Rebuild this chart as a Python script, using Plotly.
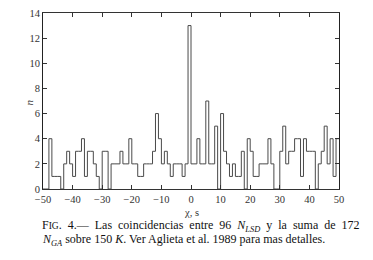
import plotly.graph_objects as go

# bin left edges (width 1 s) and coincidence counts
bin_left = list(range(-50, 50))
counts = [0, 0, 4, 1, 1, 1, 0, 2, 3, 2,
          1, 3, 3, 4, 1, 3, 3, 2, 1, 0,
          3, 3, 0, 2, 2, 2, 3, 2, 2, 4,
          2, 2, 1, 1, 2, 2, 2, 3, 6, 4,
          2, 3, 2, 1, 2, 2, 2, 1, 2, 13,
          2, 2, 4, 2, 2, 7, 2, 2, 5, 0,
          6, 3, 2, 1, 2, 1, 1, 3, 0, 4,
          3, 1, 1, 2, 2, 2, 4, 2, 0, 0,
          3, 5, 2, 3, 3, 4, 4, 1, 4, 3,
          3, 3, 0, 2, 3, 5, 2, 4, 1, 4]
x_ticks = [-50, -40, -30, -20, -10, 0, 10, 20, 30, 40, 50]
y_ticks = [0, 2, 4, 6, 8, 10, 12, 14]

x_edges = bin_left + [bin_left[-1] + 1]
y_step = counts + [counts[-1]]

SERIF = "Liberation Serif, Times New Roman, serif"

fig = go.Figure()
fig.add_trace(go.Scatter(x=x_edges, y=y_step, mode="lines",
                         line=dict(shape="hv", color="#4a4a4a", width=1),
                         hoverinfo="skip", showlegend=False))

W, H = 373, 260
L, R, T, B = 43, 34, 8, 71
fig.update_layout(
    width=W, height=H,
    margin=dict(l=L, r=R, t=T, b=B),
    paper_bgcolor="white", plot_bgcolor="white",
    font=dict(family=SERIF, color="#222", size=10),
    showlegend=False,
)
fig.update_xaxes(range=[-50, 50], tickmode="array", tickvals=x_ticks,
                 ticks="inside", ticklen=4, tickcolor="#333", mirror="ticks",
                 showline=True, linecolor="#333", linewidth=1,
                 showgrid=False, zeroline=False,
                 tickfont=dict(family=SERIF, size=10.5, color="#333"))
fig.update_yaxes(range=[0, 14], tickmode="array", tickvals=y_ticks,
                 ticks="inside", ticklen=4, tickcolor="#333", mirror="ticks",
                 showline=True, linecolor="#222", linewidth=1,
                 showgrid=False, zeroline=False,
                 tickfont=dict(family=SERIF, size=10.5, color="#333"))

ph = H - T - B
pw = W - L - R
def yp(py):
    return (H - B - py) / ph
def xp(px):
    return (px - L) / pw

fig.add_annotation(text="<i>n</i>", xref="paper", yref="paper",
                   x=xp(29), y=yp(100), xanchor="center", yanchor="middle",
                   showarrow=False, textangle=-90,
                   font=dict(family=SERIF, size=11, color="#333"))
fig.add_annotation(text="χ, s", xref="paper", yref="paper",
                   x=0.5, y=yp(213), xanchor="center", yanchor="middle",
                   showarrow=False,
                   font=dict(family=SERIF, size=10.5, color="#333"))

SP = "\u2002"
line1 = SP.join(["F<span style='font-size:9.5px'>IG</span>.", "4.—", "Las",
                 "coincidencias", "entre", "96",
                 "<i>N</i><sub><i>LSD</i></sub>", "y", "la", "suma", "de", "172"])
fig.add_annotation(
    text=line1, xref="paper", yref="paper", x=xp(40), y=yp(227),
    xanchor="left", yanchor="middle",
    showarrow=False, font=dict(family=SERIF, size=12, color="#111"))
fig.add_annotation(
    text="<i>N</i><sub><i>GA</i></sub> sobre 150 <i>K</i>. Ver Aglieta et al. 1989 para mas detalles.",
    xref="paper", yref="paper", x=xp(40), y=yp(241),
    xanchor="left", yanchor="middle",
    showarrow=False, font=dict(family=SERIF, size=12, color="#111"))

fig.write_html("out.html", config={"displayModeBar": False},
               post_script="document.body.style.margin='0';document.body.style.overflow='hidden';")
